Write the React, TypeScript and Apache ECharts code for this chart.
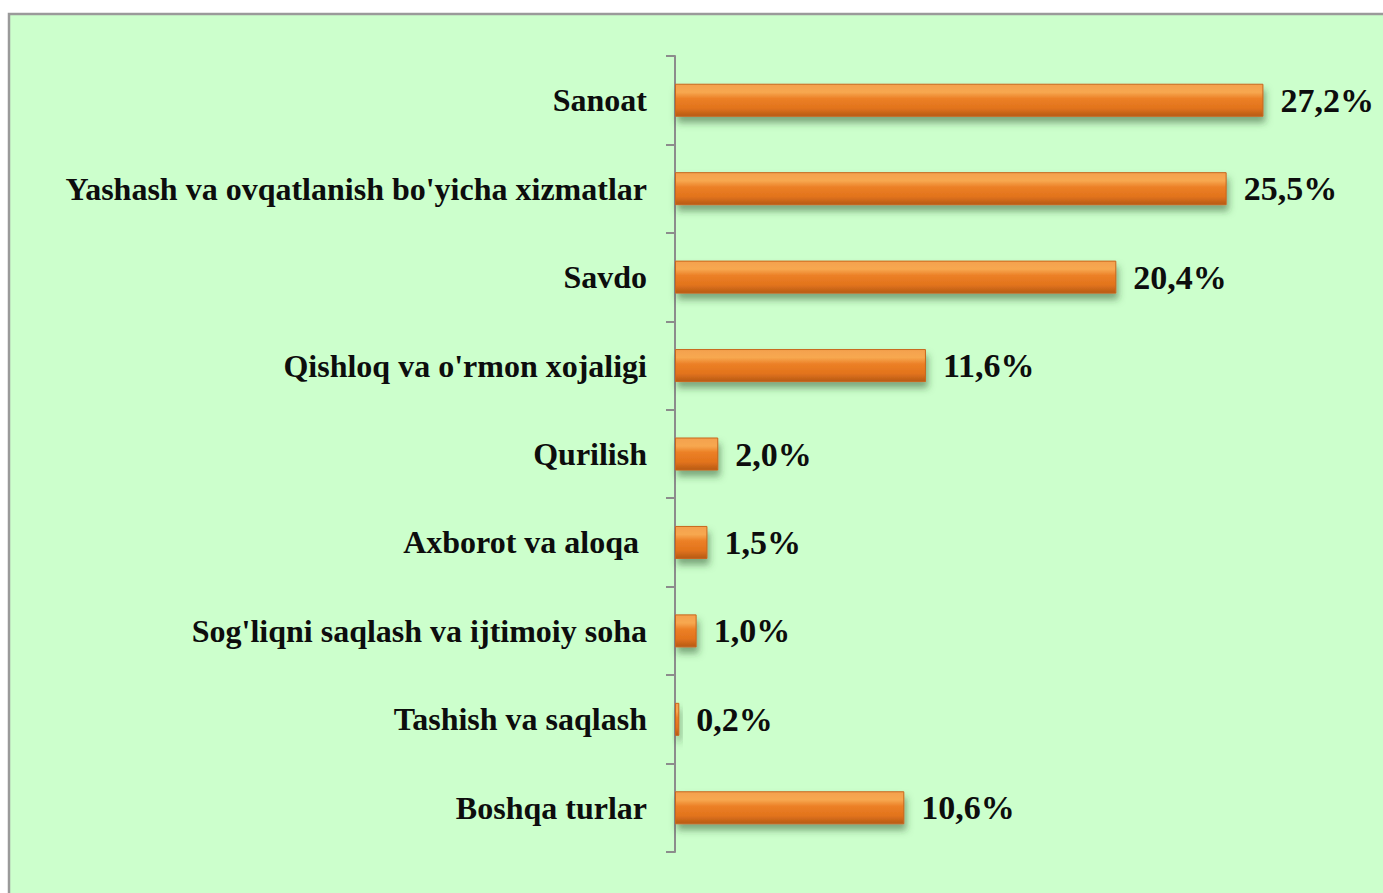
import React, { useEffect, useRef } from "react";
import * as echarts from "echarts";

const categories = [
  "Sanoat",
  "Yashash va ovqatlanish bo'yicha xizmatlar",
  "Savdo",
  "Qishloq va o'rmon xojaligi",
  "Qurilish",
  "Axborot va aloqa ",
  "Sog'liqni saqlash va ijtimoiy soha",
  "Tashish va saqlash",
  "Boshqa turlar",
];
const values = [27.2, 25.5, 20.4, 11.6, 2.0, 1.5, 1.0, 0.2, 10.6];

const FONT = "Liberation Serif, Times New Roman, serif";

export default function App() {
  const ref = useRef<HTMLDivElement>(null);
  useEffect(() => {
    if (!ref.current) return;
    const chart = echarts.init(ref.current, undefined, { renderer: "svg" });
    chart.setOption({
      animation: false,
      backgroundColor: "#ffffff",
      graphic: [
        {
          type: "rect",
          z: -10,
          silent: true,
          shape: { x: 9, y: 14, width: 1400, height: 900 },
          style: { fill: "#CCFFCC", stroke: "#9a9a9a", lineWidth: 2.5 },
        },
      ],
      grid: { left: 675, top: 56, width: 649, height: 796 },
      xAxis: {
        type: "value",
        min: 0,
        max: 30,
        show: false,
      },
      yAxis: {
        type: "category",
        data: categories,
        inverse: true,
        axisLine: { show: true, lineStyle: { color: "#8c8c8c", width: 2 } },
        axisTick: { show: true, length: 9, lineStyle: { color: "#8c8c8c", width: 2 } },
        axisLabel: {
          margin: 28,
          fontFamily: FONT,
          fontWeight: "bold",
          fontSize: 32,
          color: "#0d0d0d",
        },
      },
      series: [
        {
          type: "bar",
          data: values,
          barWidth: 33,
          itemStyle: {
            color: new echarts.graphic.LinearGradient(0, 0, 0, 1, [
              { offset: 0, color: "#F4A14E" },
              { offset: 0.25, color: "#F7A850" },
              { offset: 0.45, color: "#EC8026" },
              { offset: 0.75, color: "#E2731C" },
              { offset: 1, color: "#B65A16" },
            ]),
            borderColor: "#C8661C",
            borderWidth: 1,
            shadowColor: "rgba(40,80,40,0.5)",
            shadowBlur: 7,
            shadowOffsetX: 2,
            shadowOffsetY: 6,
          },
          label: {
            show: true,
            position: "right",
            distance: 17,
            fontFamily: FONT,
            fontWeight: "bold",
            fontSize: 34,
            color: "#0d0d0d",
            formatter: (p: any) => p.value.toFixed(1).replace(".", ",") + "%",
          },
        },
      ],
    });
    return () => chart.dispose();
  }, []);
  return (
    <div
      ref={ref}
      style={{ position: "fixed", left: 0, top: 0, width: 1383, height: 893 }}
    />
  );
}
